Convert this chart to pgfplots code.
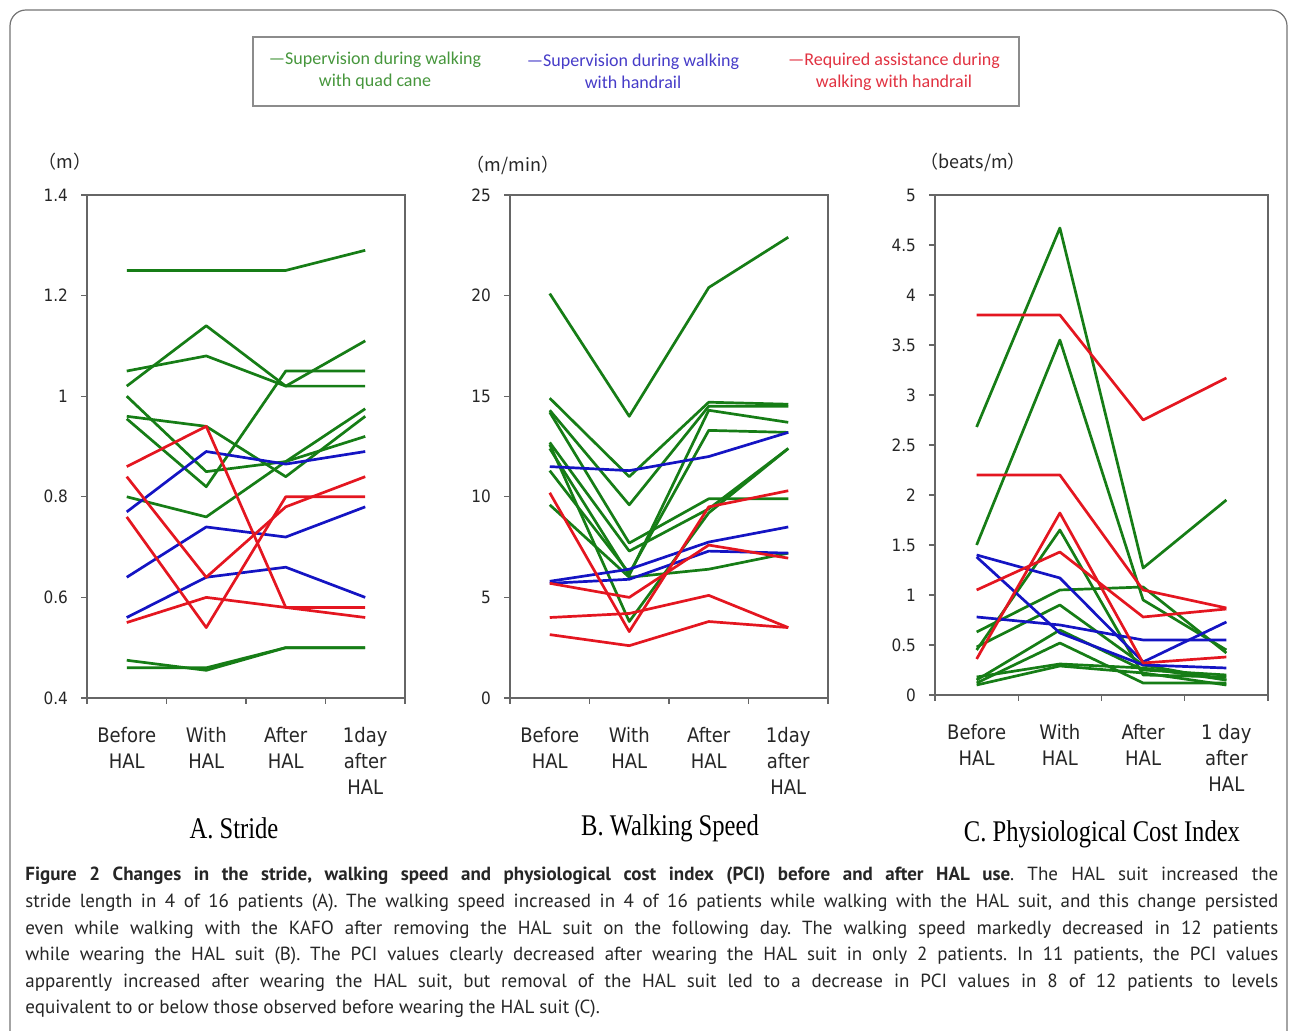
\documentclass[border=0pt]{standalone}
\usepackage{fontspec}
\usepackage{pgfplots}
\pgfplotsset{compat=1.18}
\setmainfont{Liberation Sans}
\newfontfamily\tickfont[FakeStretch=0.9]{DejaVu Sans}
\newfontfamily\titlefont[FakeStretch=0.82]{Liberation Serif}
\newfontfamily\legfont{Carlito}
\newfontfamily\capfont{PT Sans}
\newfontfamily\cjk{Noto Sans CJK JP}
\definecolor{gline}{RGB}{22,125,22}
\definecolor{bline}{RGB}{20,20,195}
\definecolor{rline}{RGB}{228,22,32}
\definecolor{gtext}{RGB}{70,150,60}
\definecolor{btext}{RGB}{70,60,200}
\definecolor{rtext}{RGB}{225,50,65}

\pgfplotsset{
  panel/.style={
    scale only axis, anchor=south west,
    xmin=0, xmax=4,
    xtick={0.5,1.5,2.5,3.5}, minor xtick={0,1,2,3,4},
    major x tick style={draw=none},
    major tick length=3pt, minor tick length=3pt,
    tick align=outside, tick pos=left,
    tick style={black!60, line width=0.6pt},
    axis line style={black!60, line width=0.6pt},
    /pgf/number format/assume math mode=true,
    yticklabel style={font=\tickfont\fontsize{8.5}{10}\selectfont, text=black!85, xshift=-3pt},
    xticklabel style={font=\tickfont\fontsize{10}{13}\selectfont, text=black!85, align=center, anchor=north, yshift=-8pt},
    every axis plot/.append style={line width=1.35pt, line join=round, no markers},
  },
  g/.style={gline}, b/.style={bline}, r/.style={rline},
}

\begin{document}
\frenchspacing
\begin{tikzpicture}
% page frame, legend, labels and caption in image pixels (1 px = 0.5pt)
\begin{scope}[x=0.5pt,y=0.5pt]
\path[use as bounding box] (0,0) rectangle (1290,1031);
\draw[black!55, line width=0.6pt, rounded corners=8pt] (10,-30) rectangle (1287,1021);

\draw[black!45, line width=0.8pt] (253,925) rectangle (1019,994);
\node[font=\legfont\fontsize{9}{11}\selectfont, text=gtext, align=center] at (375,960) {—Supervision during walking\\with quad cane};
\node[font=\legfont\fontsize{9}{11}\selectfont, text=btext, align=center] at (633,960) {—Supervision during walking\\with handrail};
\node[font=\legfont\fontsize{9}{11}\selectfont, text=rtext, align=center] at (894,959) {—Required assistance during\\walking with handrail};

\node[font=\cjk\fontsize{9}{10}\selectfont, text=black!85] at (65,869) {（m）};
\node[font=\cjk\fontsize{9}{10}\selectfont, text=black!85] at (513,866) {（m/min）};
\node[font=\cjk\fontsize{9}{10}\selectfont, text=black!85] at (973,869) {（beats/m）};
\node[font=\titlefont\fontsize{15}{17}\selectfont] at (234,203) {A. Stride};
\node[font=\titlefont\fontsize{15}{17}\selectfont] at (670,203) {B. Walking Speed};
\node[font=\titlefont\fontsize{15}{17}\selectfont] at (1102,197) {C. Physiological Cost Index};

\node[anchor=north west, inner sep=0pt, text width=626.5pt, align=justify,
  font=\capfont\fontsize{9.5}{13.3}\selectfont, text=black!85] at (25,164)
{\textbf{Figure 2 Changes in the stride, walking speed and physiological cost index (PCI) before and after HAL use}. The HAL suit increased the\linebreak
stride length in 4 of 16 patients (A). The walking speed increased in 4 of 16 patients while walking with the HAL suit, and this change persisted\linebreak
even while walking with the KAFO after removing the HAL suit on the following day. The walking speed markedly decreased in 12 patients\linebreak
while wearing the HAL suit (B). The PCI values clearly decreased after wearing the HAL suit in only 2 patients. In 11 patients, the PCI values\linebreak
apparently increased after wearing the HAL suit, but removal of the HAL suit led to a decrease in PCI values in 8 of 12 patients to levels\linebreak
equivalent to or below those observed before wearing the HAL suit (C).};
\end{scope}

% A. Stride
\begin{axis}[panel, at={(43.5pt,166.5pt)}, width=159pt, height=251.5pt,
  ymin=0.4, ymax=1.4, ytick={0.4,0.6,0.8,1.0,1.2,1.4},
  xticklabels={{Before\\HAL},{With\\HAL},{After\\HAL},{1day\\after\\HAL}}]
\addplot[g] coordinates {(0.5,1.25) (1.5,1.25) (2.5,1.25) (3.5,1.29)};
\addplot[g] coordinates {(0.5,1.05) (1.5,1.08) (2.5,1.02) (3.5,1.02)};
\addplot[g] coordinates {(0.5,1.02) (1.5,1.14) (2.5,1.02) (3.5,1.11)};
\addplot[g] coordinates {(0.5,0.955) (1.5,0.82) (2.5,1.05) (3.5,1.05)};
\addplot[g] coordinates {(0.5,1.0) (1.5,0.85) (2.5,0.87) (3.5,0.92)};
\addplot[g] coordinates {(0.5,0.96) (1.5,0.94) (2.5,0.84) (3.5,0.96)};
\addplot[g] coordinates {(0.5,0.80) (1.5,0.76) (2.5,0.87) (3.5,0.975)};
\addplot[g] coordinates {(0.5,0.475) (1.5,0.455) (2.5,0.50) (3.5,0.50)};
\addplot[g] coordinates {(0.5,0.46) (1.5,0.46) (2.5,0.50) (3.5,0.50)};
\addplot[b] coordinates {(0.5,0.77) (1.5,0.89) (2.5,0.865) (3.5,0.89)};
\addplot[b] coordinates {(0.5,0.64) (1.5,0.74) (2.5,0.72) (3.5,0.78)};
\addplot[b] coordinates {(0.5,0.56) (1.5,0.64) (2.5,0.66) (3.5,0.60)};
\addplot[r] coordinates {(0.5,0.86) (1.5,0.94) (2.5,0.58) (3.5,0.58)};
\addplot[r] coordinates {(0.5,0.84) (1.5,0.64) (2.5,0.78) (3.5,0.84)};
\addplot[r] coordinates {(0.5,0.76) (1.5,0.54) (2.5,0.80) (3.5,0.80)};
\addplot[r] coordinates {(0.5,0.55) (1.5,0.60) (2.5,0.58) (3.5,0.56)};
\end{axis}

% B. Walking speed
\begin{axis}[panel, at={(255pt,166.5pt)}, width=159pt, height=251.5pt,
  ymin=0, ymax=25, ytick={0,5,10,15,20,25},
  xticklabels={{Before\\HAL},{With\\HAL},{After\\HAL},{1day\\after\\HAL}}]
\addplot[g] coordinates {(0.5,20.1) (1.5,14.0) (2.5,20.4) (3.5,22.9)};
\addplot[g] coordinates {(0.5,14.9) (1.5,11.0) (2.5,14.7) (3.5,14.6)};
\addplot[g] coordinates {(0.5,14.3) (1.5,9.6) (2.5,14.5) (3.5,14.5)};
\addplot[g] coordinates {(0.5,14.2) (1.5,7.7) (2.5,9.9) (3.5,9.9)};
\addplot[g] coordinates {(0.5,12.7) (1.5,7.3) (2.5,9.4) (3.5,12.4)};
\addplot[g] coordinates {(0.5,12.4) (1.5,6.1) (2.5,14.3) (3.5,13.7)};
\addplot[g] coordinates {(0.5,12.6) (1.5,3.8) (2.5,9.2) (3.5,12.4)};
\addplot[g] coordinates {(0.5,11.3) (1.5,6.2) (2.5,13.3) (3.5,13.2)};
\addplot[g] coordinates {(0.5,9.6) (1.5,6.0) (2.5,6.4) (3.5,7.2)};
\addplot[b] coordinates {(0.5,11.5) (1.5,11.3) (2.5,12.0) (3.5,13.2)};
\addplot[b] coordinates {(0.5,5.8) (1.5,6.4) (2.5,7.75) (3.5,8.5)};
\addplot[b] coordinates {(0.5,5.7) (1.5,5.9) (2.5,7.3) (3.5,7.2)};
\addplot[r] coordinates {(0.5,10.2) (1.5,3.3) (2.5,9.5) (3.5,10.3)};
\addplot[r] coordinates {(0.5,5.7) (1.5,5.0) (2.5,7.6) (3.5,6.95)};
\addplot[r] coordinates {(0.5,4.0) (1.5,4.2) (2.5,5.1) (3.5,3.5)};
\addplot[r] coordinates {(0.5,3.15) (1.5,2.6) (2.5,3.8) (3.5,3.5)};
\end{axis}

% C. PCI
\begin{axis}[panel, at={(467.5pt,168pt)}, width=166.5pt, height=250pt,
  ymin=0, ymax=5, ytick={0,0.5,1,1.5,2,2.5,3,3.5,4,4.5,5},
  xticklabels={{Before\\HAL},{With\\HAL},{After\\HAL},{1 day\\after\\HAL}}]
\addplot[g] coordinates {(0.5,2.68) (1.5,4.67) (2.5,1.27) (3.5,1.95)};
\addplot[g] coordinates {(0.5,1.5) (1.5,3.55) (2.5,0.95) (3.5,0.45)};
\addplot[g] coordinates {(0.5,0.45) (1.5,1.65) (2.5,0.2) (3.5,0.18)};
\addplot[g] coordinates {(0.5,0.63) (1.5,1.05) (2.5,1.08) (3.5,0.42)};
\addplot[g] coordinates {(0.5,0.48) (1.5,0.9) (2.5,0.3) (3.5,0.15)};
\addplot[g] coordinates {(0.5,0.15) (1.5,0.65) (2.5,0.25) (3.5,0.2)};
\addplot[g] coordinates {(0.5,0.12) (1.5,0.52) (2.5,0.12) (3.5,0.12)};
\addplot[g] coordinates {(0.5,0.18) (1.5,0.31) (2.5,0.27) (3.5,0.15)};
\addplot[g] coordinates {(0.5,0.10) (1.5,0.29) (2.5,0.22) (3.5,0.10)};
\addplot[b] coordinates {(0.5,1.4) (1.5,1.17) (2.5,0.33) (3.5,0.73)};
\addplot[b] coordinates {(0.5,1.38) (1.5,0.62) (2.5,0.3) (3.5,0.27)};
\addplot[b] coordinates {(0.5,0.78) (1.5,0.70) (2.5,0.55) (3.5,0.55)};
\addplot[r] coordinates {(0.5,3.8) (1.5,3.8) (2.5,2.75) (3.5,3.17)};
\addplot[r] coordinates {(0.5,2.2) (1.5,2.2) (2.5,1.05) (3.5,0.87)};
\addplot[r] coordinates {(0.5,1.05) (1.5,1.43) (2.5,0.78) (3.5,0.86)};
\addplot[r] coordinates {(0.5,0.36) (1.5,1.82) (2.5,0.32) (3.5,0.38)};
\end{axis}
\end{tikzpicture}
\end{document}
